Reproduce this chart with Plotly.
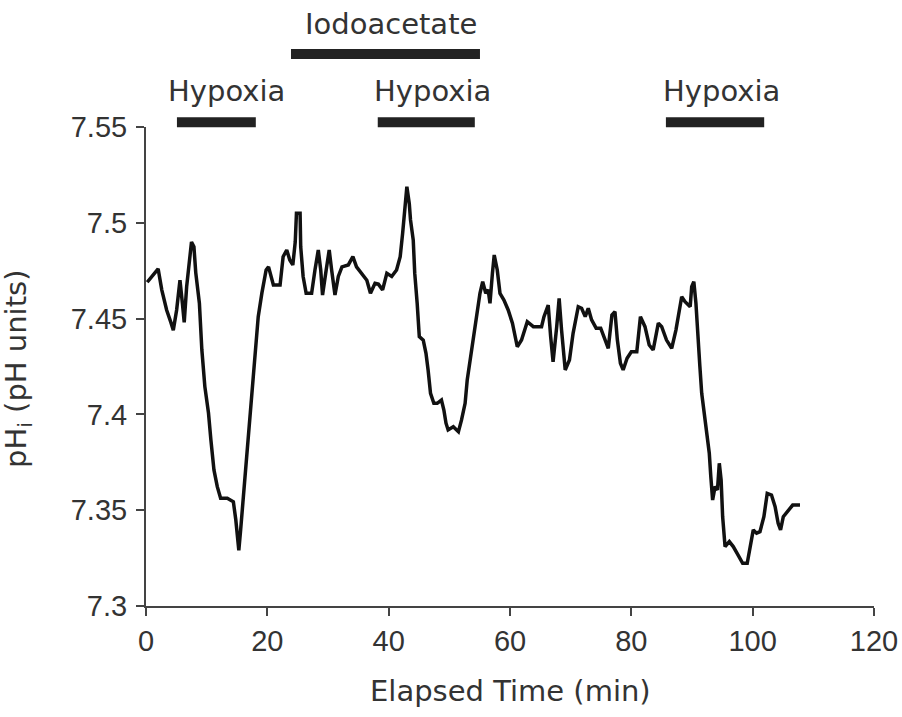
import plotly.graph_objects as go

# Elapsed time (min) and intracellular pH values
time_min = [0.2, 2.0, 2.6, 3.4, 4.1, 4.5, 5.05, 5.6, 6.0, 6.3, 6.7, 7.1, 7.5, 7.9, 8.2, 8.8,
            9.2, 9.7, 10.3, 10.7, 11.2, 11.75, 12.3, 13.4, 14.4, 14.8, 15.05, 15.3, 15.6, 15.9,
            16.3, 16.6, 16.9, 17.3, 17.6, 18.0, 18.5, 19.1, 19.8, 20.2, 21.0, 22.1, 22.6, 23.2,
            23.7, 24.2, 24.6, 24.8, 25.4, 25.5, 25.9, 26.4, 27.3, 27.85, 28.4, 28.8, 29.1, 29.7,
            30.2, 30.6, 31.15, 31.7, 32.3, 33.35, 34.1, 34.7, 35.55, 36.4, 37.0, 37.75, 38.3,
            39.0, 39.7, 40.5, 41.3, 41.9, 42.3, 42.7, 43.0, 43.4, 43.6, 44.05, 44.3, 44.7, 45.05,
            45.7, 46.15, 46.5, 46.9, 47.45, 48.0, 48.7, 49.1, 49.45, 49.8, 50.65, 51.5, 52.0,
            52.6, 52.95, 53.4, 53.95, 54.5, 55.05, 55.5, 56.0, 56.4, 56.7, 57.1, 57.4, 57.9,
            58.35, 59.0, 59.7, 60.4, 61.2, 61.9, 62.85, 63.85, 65.2, 65.6, 66.3, 66.7, 67.1,
            67.7, 68.1, 68.5, 69.1, 69.8, 70.4, 71.25, 71.8, 72.4, 72.9, 73.45, 74.2, 74.95,
            75.65, 76.2, 76.8, 77.3, 77.7, 78.2, 78.65, 79.3, 80.0, 80.9, 81.5, 82.25, 82.95,
            83.6, 84.45, 85.0, 85.8, 86.65, 87.35, 88.0, 88.3, 88.85, 89.7, 89.95, 90.3, 90.65,
            90.9, 91.3, 91.6, 92.0, 92.4, 92.85, 93.1, 93.4, 93.8, 94.2, 94.5, 94.8, 95.05,
            95.45, 96.15, 96.8, 97.6, 98.35, 99.1, 99.55, 100.1, 100.65, 101.2, 101.85, 102.4,
            103.1, 103.7, 104.2, 104.6, 105.05, 105.9, 106.6, 107.8]
ph_i = [7.469, 7.476, 7.465, 7.4545, 7.448, 7.444, 7.4545, 7.470, 7.458, 7.448, 7.4667, 7.4806,
        7.490, 7.4875, 7.474, 7.458, 7.434, 7.4145, 7.4007, 7.3866, 7.371, 7.3623, 7.3562, 7.3562,
        7.3544, 7.345, 7.336, 7.329, 7.3397, 7.3518, 7.3623, 7.3745, 7.3919, 7.4058, 7.418,
        7.4336, 7.451, 7.4633, 7.4754, 7.477, 7.4675, 7.4675, 7.4823, 7.4858, 7.4806, 7.478,
        7.490, 7.505, 7.505, 7.4875, 7.472, 7.4632, 7.4632, 7.4754, 7.4858, 7.4754, 7.4623,
        7.4754, 7.4858, 7.4754, 7.4623, 7.472, 7.477, 7.478, 7.4823, 7.477, 7.4736, 7.470,
        7.4632, 7.4684, 7.468, 7.465, 7.4736, 7.472, 7.4754, 7.4823, 7.4945, 7.5076, 7.5188,
        7.510, 7.5015, 7.491, 7.4736, 7.458, 7.4406, 7.4388, 7.4319, 7.4232, 7.411, 7.4058,
        7.4058, 7.4075, 7.4023, 7.3954, 7.3919, 7.3936, 7.391, 7.397, 7.4058, 7.418, 7.4284,
        7.4406, 7.4528, 7.4632, 7.4693, 7.4632, 7.465, 7.458, 7.4736, 7.4832, 7.4754, 7.4632,
        7.4597, 7.4545, 7.4476, 7.4353, 7.4388, 7.4484, 7.4458, 7.4458, 7.451, 7.457, 7.4406,
        7.4275, 7.4458, 7.4606, 7.444, 7.4232, 7.4284, 7.4423, 7.4562, 7.4554, 7.451, 7.4554,
        7.4493, 7.445, 7.445, 7.4388, 7.4345, 7.4519, 7.4536, 7.4388, 7.4267, 7.4232, 7.4293,
        7.4327, 7.4327, 7.451, 7.4458, 7.4362, 7.4336, 7.4476, 7.4458, 7.4388, 7.4345, 7.444,
        7.458, 7.4614, 7.4588, 7.4562, 7.4667, 7.4693, 7.458, 7.4423, 7.4249, 7.411, 7.4006,
        7.390, 7.3797, 7.3675, 7.3553, 7.3623, 7.3606, 7.3745, 7.3658, 7.3466, 7.331, 7.3336,
        7.331, 7.3266, 7.3223, 7.3223, 7.331, 7.3397, 7.338, 7.3388, 7.3466, 7.3588, 7.3579,
        7.3518, 7.3432, 7.3397, 7.3466, 7.350, 7.3527, 7.3527]

# Treatment periods (min)
hypoxia_start = [5.1, 38.2, 85.7]
hypoxia_end = [18.1, 54.2, 101.9]
iodo_start = 23.9
iodo_end = 55.05

x_ticks = [0, 20, 40, 60, 80, 100, 120]
y_ticks = [7.3, 7.35, 7.4, 7.45, 7.5, 7.55]
y_tick_labels = ["7.3", "7.35", "7.4", "7.45", "7.5", "7.55"]

TICKFONT = "Liberation Sans, Arial, sans-serif"
LABELFONT = "DejaVu Sans, Liberation Sans, sans-serif"
TXT = "#333333"

fig = go.Figure()
fig.add_trace(go.Scatter(x=time_min, y=ph_i, mode="lines",
                         line=dict(color="#111111", width=3.5), showlegend=False,
                         hoverinfo="x+y"))

shapes = []
for s, e in zip(hypoxia_start, hypoxia_end):
    shapes.append(dict(type="rect", xref="x", yref="paper", x0=s, x1=e,
                       y0=0.9995, y1=1.0205, fillcolor="#222222", line=dict(width=0)))
shapes.append(dict(type="rect", xref="x", yref="paper", x0=iodo_start, x1=iodo_end,
                   y0=1.1420, y1=1.1630, fillcolor="#222222", line=dict(width=0)))

annotations = []
label_x = [13.2, 47.3, 94.9]
for lx in label_x:
    annotations.append(dict(text="Hypoxia", x=lx, xref="x", y=1.075, yref="paper",
                            showarrow=False, font=dict(family=LABELFONT, size=29, color=TXT),
                            xanchor="center", yanchor="middle"))
annotations.append(dict(text="Iodoacetate", x=40.4, xref="x", y=1.216, yref="paper",
                        showarrow=False, font=dict(family=LABELFONT, size=29, color=TXT),
                        xanchor="center", yanchor="middle"))
annotations.append(dict(text="Elapsed Time (min)", x=0.5, xref="paper", y=-0.178, yref="paper",
                        showarrow=False, font=dict(family=LABELFONT, size=29, color=TXT),
                        xanchor="center", yanchor="middle"))
annotations.append(dict(text="pH<sub>i</sub> (pH units)", x=-0.175, xref="paper", y=0.494,
                        yref="paper", textangle=-90, showarrow=False,
                        font=dict(family=LABELFONT, size=29, color=TXT),
                        xanchor="center", yanchor="middle"))

fig.update_layout(
    width=902, height=717,
    margin=dict(l=146, r=28, t=127, b=111),
    paper_bgcolor="white", plot_bgcolor="white",
    font=dict(family=TICKFONT, color=TXT),
    shapes=shapes, annotations=annotations,
    xaxis=dict(range=[0, 120], tickvals=x_ticks, ticks="outside", ticklen=8, tickwidth=2,
               tickcolor="#444444", showline=True, linecolor="#444444", linewidth=2,
               showgrid=False, zeroline=False, automargin=False, ticklabelstandoff=0,
               tickfont=dict(size=29, color=TXT)),
    yaxis=dict(range=[7.3, 7.55], tickvals=y_ticks, ticktext=y_tick_labels, ticks="outside",
               ticklen=8, tickwidth=2, tickcolor="#444444", showline=True,
               linecolor="#444444", linewidth=2, showgrid=False, zeroline=False,
               automargin=False, ticklabelstandoff=3,
               tickfont=dict(size=29, color=TXT)),
)

fig.write_html("out.html", config={"displayModeBar": False},
               post_script="document.body.style.margin='0';")
